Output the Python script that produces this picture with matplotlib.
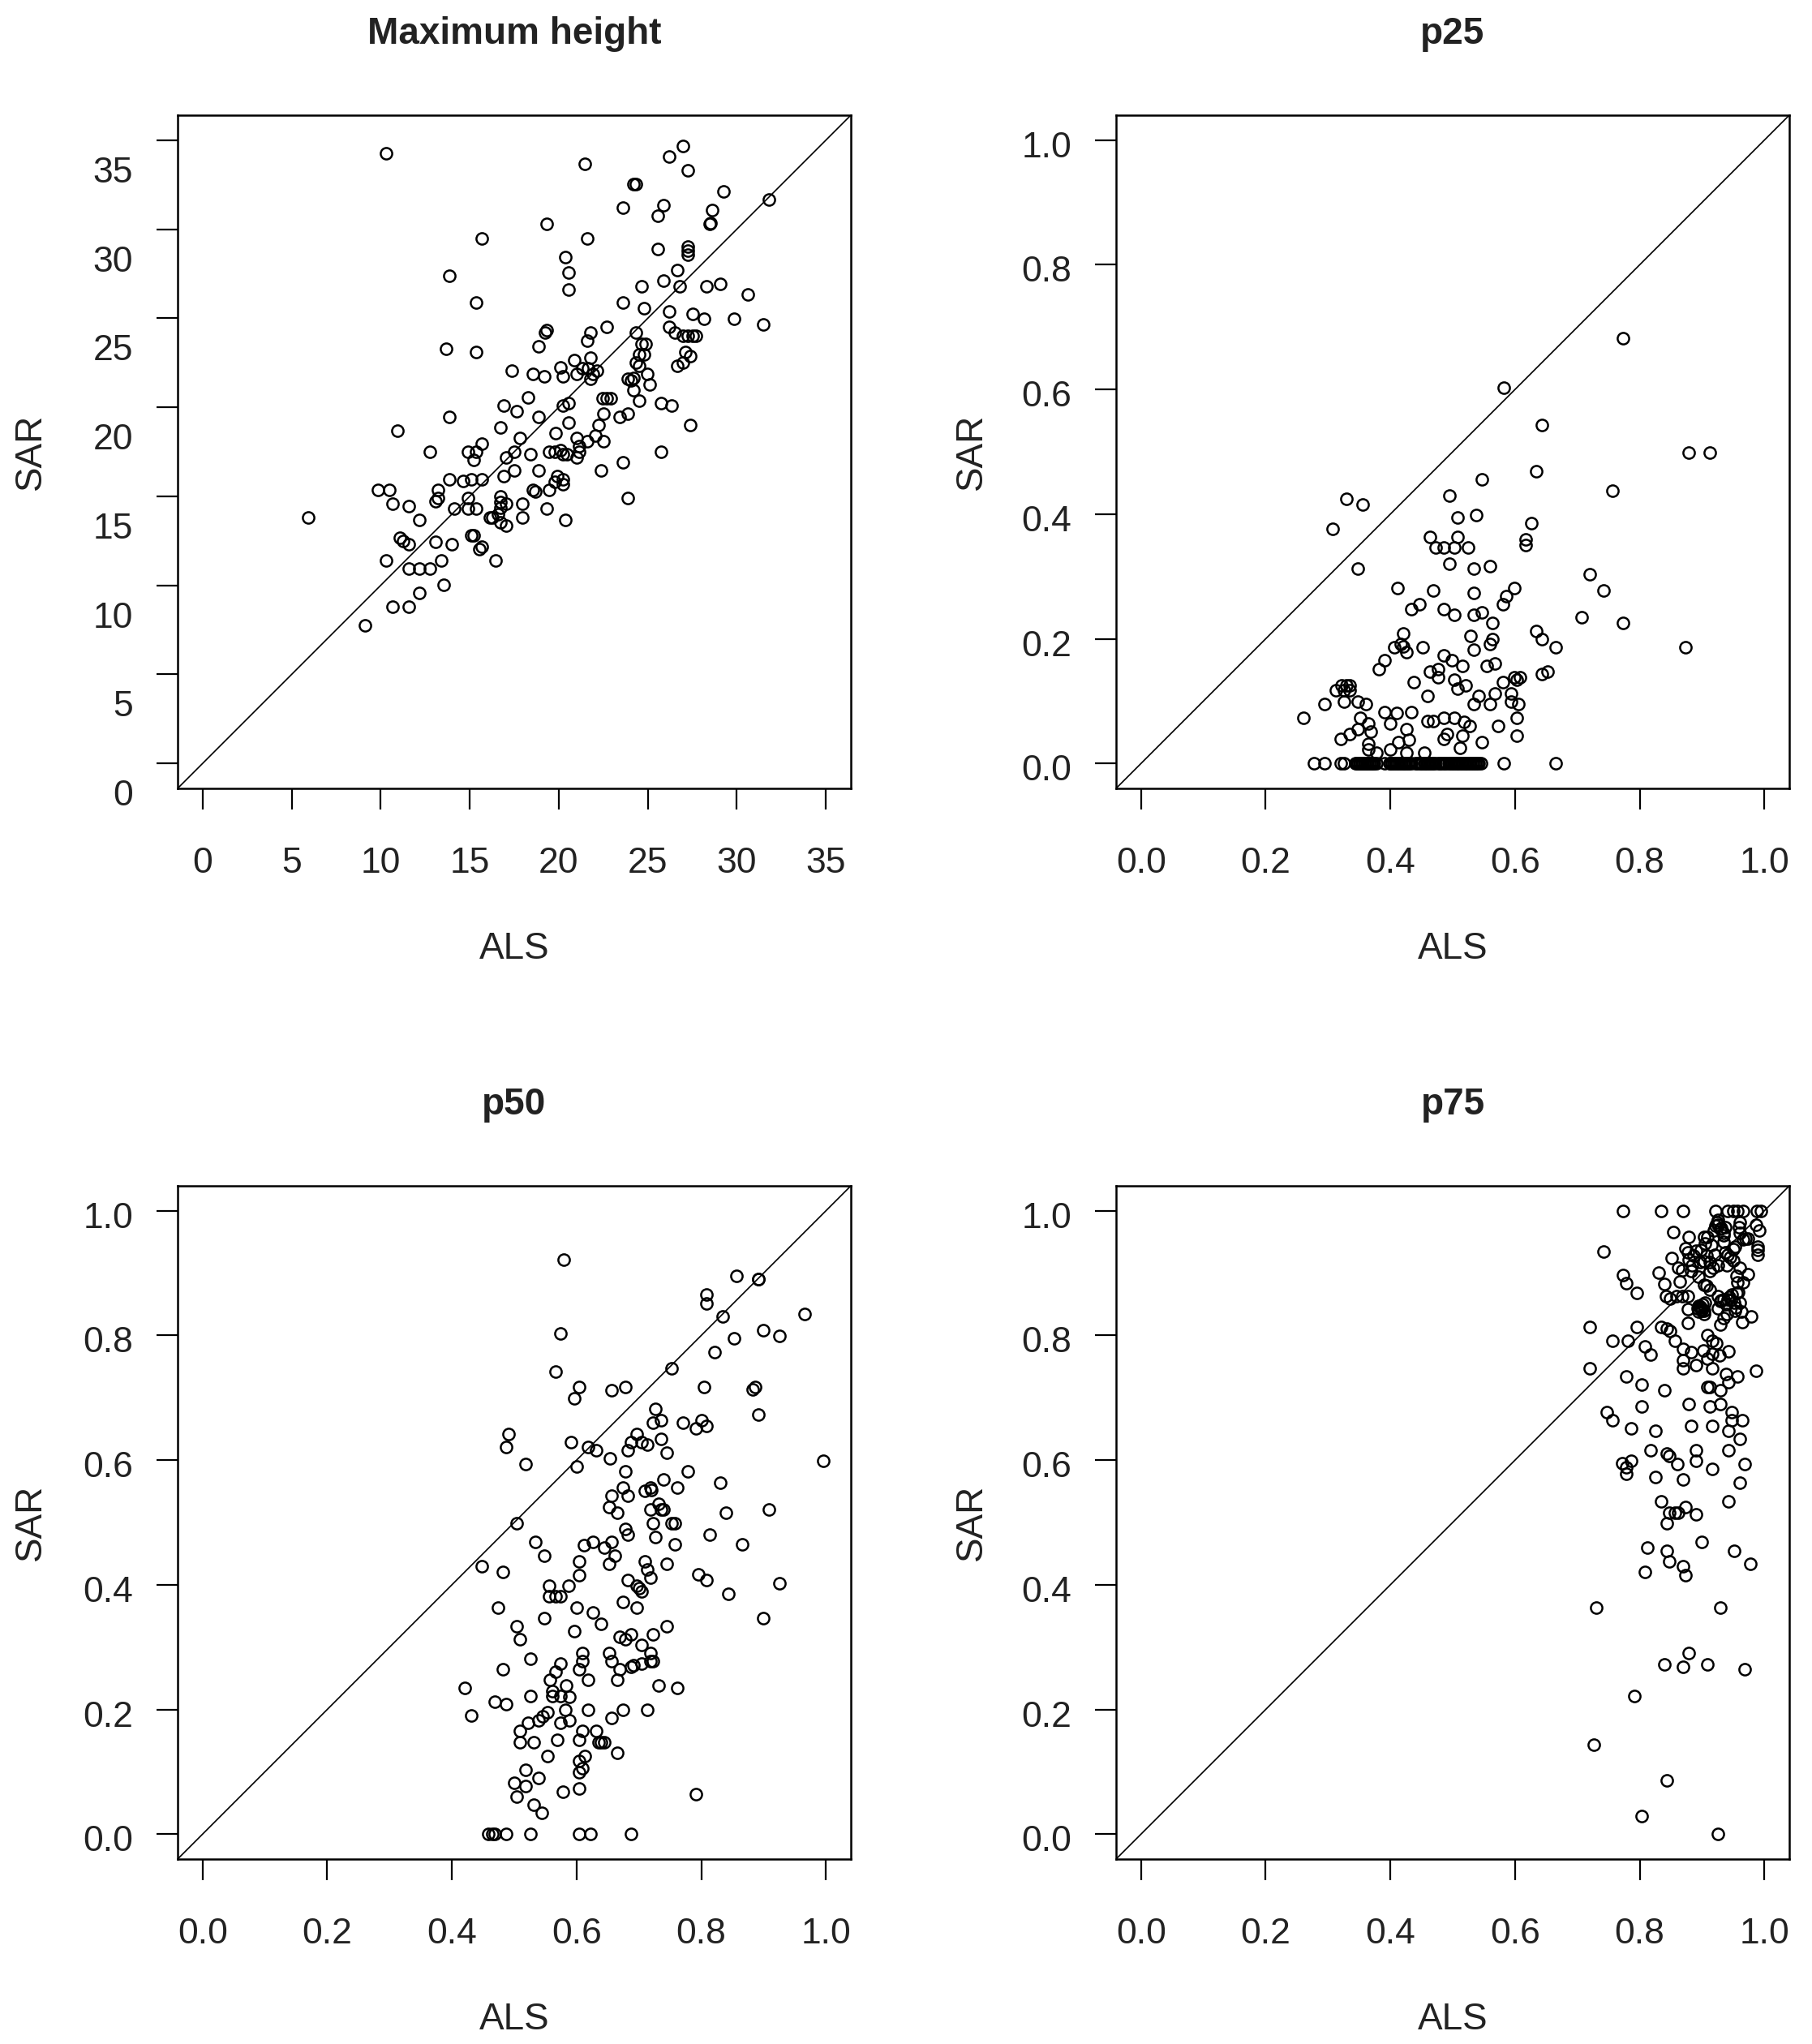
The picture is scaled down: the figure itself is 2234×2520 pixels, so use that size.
import matplotlib
matplotlib.use('Agg')
import matplotlib.pyplot as plt
from matplotlib.transforms import ScaledTranslation

plt.rcParams['font.family'] = ['Liberation Sans', 'DejaVu Sans']

# values
height_als = [10.32, 21.46, 26.95, 26.19, 27.26, 24.2, 24.35, 29.23, 31.8, 23.58, 25.88, 25.57, 28.6, 28.5, 28.49,
              19.34, 15.69, 21.6, 25.57, 27.26, 27.26, 27.26, 20.39, 26.65, 20.54, 13.85, 25.88, 24.65, 26.8, 28.31,
              29.07, 20.54, 30.6, 15.38, 23.58, 24.8, 26.19, 27.54, 28.16, 29.84, 31.5, 22.69, 26.19, 26.5, 26.95,
              27.26, 27.54, 27.72, 19.34, 19.21, 21.77, 24.35, 21.6, 18.86, 24.65, 24.88, 13.69, 15.38, 27.1, 27.39,
              24.5, 24.8, 21.77, 20.85, 26.95, 26.65, 24.35, 24.5, 20.1, 17.35, 18.57, 19.19, 20.23, 21, 21.31,
              21.64, 21.92, 22.15, 21.77, 24.96, 23.89, 24.04, 24.2, 25.11, 24.2, 18.27, 22.46, 22.69, 22.92, 24.5,
              25.73, 26.34, 16.91, 20.23, 20.54, 17.65, 22.53, 13.85, 18.86, 23.89, 23.43, 20.54, 22.23, 27.39,
              16.73, 10.94, 19.8, 22.07, 17.81, 21, 21.6, 22.53, 15.69, 21.15, 12.78, 14.92, 15.38, 15.23, 17.5,
              17.04, 18.42, 19.47, 19.78, 20.08, 20.23, 20.47, 21, 21.15, 25.73, 23.58, 17.5, 18.86, 22.38, 16.91,
              13.85, 14.61, 15.07, 15.69, 19.93, 20.23, 19.78, 20.23, 9.86, 10.5, 13.23, 18.57, 18.7, 19.47, 14.92,
              16.73, 16.73, 16.73, 23.89, 13.23, 13.08, 10.65, 11.57, 17.04, 17.96, 14.15, 14.92, 15.38, 19.34, 5.93,
              12.19, 16.28, 16.15, 16.58, 17.96, 20.39, 16.73, 17.04, 15.07, 15.23, 11.09, 11.24, 11.57, 13.08, 14,
              15.69, 15.53, 10.32, 13.39, 16.45, 11.57, 12.19, 12.78, 13.54, 12.19, 10.65, 11.57, 9.12]
height_sar = [34.26, 33.65, 34.69, 34.1, 33.3, 32.55, 32.55, 32.1, 31.66, 31.2, 31.35, 30.74, 31.05, 30.36, 30.28,
              30.28, 29.5, 29.5, 28.9, 29, 28.78, 28.57, 28.44, 27.7, 27.55, 27.4, 27.1, 26.8, 26.8, 26.8,
              26.94, 26.63, 26.33, 25.87, 25.87, 25.56, 25.4, 25.26, 24.95, 24.95, 24.64, 24.5, 24.5, 24.18, 24.03,
              24.03, 24.03, 24.03, 24.34, 24.18, 24.18, 24.18, 23.72, 23.42, 23.57, 23.57, 23.27, 23.11, 23.11, 22.86,
              22.96, 22.96, 22.8, 22.65, 22.5, 22.35, 22.5, 22.35, 22.24, 22.04, 21.89, 21.73, 21.73, 21.89, 22.2,
              22.2, 21.89, 22.04, 21.58, 21.89, 21.58, 21.5, 21.63, 21.27, 20.97, 20.54, 20.51, 20.51, 20.51, 20.38,
              20.23, 20.08, 20.08, 20.1, 20.23, 19.77, 19.62, 19.46, 19.46, 19.62, 19.46, 19.16, 19.0, 19.0,
              18.85, 18.7, 18.57, 18.39, 18.27, 18.27, 18.11, 18.11, 17.96, 17.8, 17.5, 17.5, 17.5, 17.04, 17.5,
              17.19, 17.35, 17.5, 17.5, 17.6, 17.35, 17.35, 17.19, 17.5, 17.5, 16.89, 16.43, 16.43, 16.43, 16.12,
              15.97, 15.84, 15.97, 15.97, 16.15, 15.97, 15.82, 15.66, 15.36, 15.36, 15.36, 15.36, 15.25, 15.36, 14.92,
              15, 14.67, 14.36, 14.92, 14.92, 14.74, 14.57, 14.44, 14.57, 14.57, 14.31, 14.31, 14.31, 14.31, 13.83,
              13.67, 13.83, 13.83, 13.98, 13.83, 13.67, 13.52, 13.37, 12.8, 12.8, 12.65, 12.5, 12.3, 12.45, 12.3,
              12.19, 12.04, 11.4, 11.4, 11.4, 10.94, 10.94, 10.94, 10.03, 9.57, 8.8, 8.8, 7.76]

p25_als = [.773, .582, .643, .878, .912, .634, .547, .756, .495, .330, .356, .308, .538, .508, .626, .464, .508, .617,
           .617, .473, .486, .503, .525, .495, .348, .534, .560, .720, .742, .412, .469, .534, .599, .586, .581, .447,
           .434, .486, .503, .534, .547, .564, .707, .773, .421, .634, .643, .529, .564, .560, .665, .873, .452, .406,
           .417, .421, .426, .534, .486, .499, .516, .391, .382, .555, .568, .464, .477, .477, .652, .643, .599, .608,
           .603, .581, .503, .521, .508, .438, .322, .330, .335, .313, .326, .335, .568, .594, .460, .542, .594, .606,
           .560, .534, .326, .348, .361, .295, .391, .410, .434, .261, .352, .365, .400, .460, .469, .486, .503, .518,
           .527, .603, .573, .426, .348, .369, .335, .321, .491, .486, .516, .603, .547, .430, .413, .365, .365, .512,
           .400, .378, .426, .455]
p25_sar = [.682, .603, .543, .499, .499, .469, .456, .438, .430, .425, .416, .377, .399, .395, .386, .364, .364, .359,
           .351, .347, .347, .347, .347, .321, .312, .312, .317, .304, .277, .282, .277, .273, .282, .269, .256, .256,
           .248, .248, .239, .239, .243, .226, .235, .226, .208, .213, .200, .204, .200, .191, .186, .186, .186, .186,
           .191, .188, .178, .182, .173, .165, .156, .165, .151, .156, .160, .147, .151, .138, .147, .143, .138, .138,
           .135, .130, .134, .125, .120, .130, .125, .125, .125, .117, .117, .117, .112, .112, .108, .108, .099, .095,
           .095, .095, .099, .099, .095, .095, .082, .081, .082, .073, .073, .064, .064, .068, .068, .073, .073, .067,
           .060, .073, .060, .055, .055, .051, .047, .039, .047, .039, .044, .044, .034, .038, .034, .031, .022, .025,
           .022, .017, .017, .017]
# points along the SAR = 0 row of p25, packed tight enough to merge into a bar
p25_zero_als = [.277, .294, .321, .326, .344, .346, .348, .350, .352, .354, .356, .358, .360, .362, .364, .366, .368,
                .370, .372, .374, .378, .391, .398, .400, .403, .405, .408, .410, .413, .415, .418, .420, .423, .425,
                .428, .430, .434, .440, .443, .446, .449, .451, .454, .456, .459, .461, .464, .466, .469, .471, .476,
                .479, .481, .484, .487, .490, .493, .496, .499, .501, .504, .506, .509, .511, .514, .516, .519, .521,
                .524, .526, .529, .531, .534, .536, .539, .541, .545, .582, .665]
p25_zero_sar = [0.0] * len(p25_zero_als)

p50_als = [.579, .857, .892, .892, .809, .809, .835, .966, .900, .926, .574, .853, .822, .753, .566, .604, .596, .656,
           .678, .804, .886, .883, .726, .892, .735, .722, .770, .791, .800, .809, .696, .687, .704, .713, .735, .682,
           .744, .491, .487, .591, .618, .631, .653, .518, .600, .996, .678, .778, .831, .739, .761, .674, .709, .718,
           .720, .656, .682, .652, .665, .731, .735, .739, .718, .839, .909, .504, .722, .753, .757, .678, .682, .813,
           .726, .534, .612, .626, .656, .644, .661, .652, .548, .757, .865, .604, .604, .709, .713, .718, .744, .448,
           .482, .796, .809, .682, .696, .704, .700, .926, .556, .587, .556, .566, .574, .844, .674, .696, .474, .600,
           .626, .639, .548, .900, .504, .509, .744, .596, .687, .722, .669, .678, .704, .609, .609, .652, .656, .718,
           .718, .722, .704, .691, .687, .526, .574, .566, .557, .482, .604, .669, .665, .618, .583, .561, .561, .574,
           .588, .731, .761, .421, .526, .469, .487, .582, .618, .674, .713, .431, .553, .545, .656, .539, .522, .574,
           .588, .509, .509, .531, .609, .631, .569, .604, .635, .639, .644, .553, .665, .613, .604, .609, .604, .518,
           .539, .500, .518, .504, .578, .604, .791, .531, .544, .459, .465, .469, .487, .526, .604, .622, .687]
p50_sar = [.921, .895, .891, .891, .865, .851, .830, .834, .808, .799, .803, .795, .773, .747, .742, .717, .699, .712,
           .717, .717, .717, .714, .682, .673, .664, .660, .660, .651, .664, .655, .642, .629, .629, .625, .634, .616,
           .612, .642, .621, .629, .621, .616, .603, .594, .590, .599, .582, .582, .564, .569, .556, .556, .551, .556,
           .552, .543, .543, .525, .516, .530, .521, .521, .521, .516, .521, .499, .499, .499, .499, .490, .481, .481,
           .477, .469, .464, .469, .469, .460, .447, .434, .447, .465, .465, .438, .416, .438, .425, .412, .434, .430,
           .421, .417, .408, .408, .399, .390, .395, .403, .399, .399, .382, .382, .382, .386, .373, .364, .364, .364,
           .355, .338, .347, .347, .334, .312, .334, .326, .321, .321, .317, .312, .304, .290, .277, .291, .277, .291,
           .277, .277, .273, .271, .269, .282, .273, .260, .248, .264, .264, .264, .248, .248, .239, .230, .221, .221,
           .220, .238, .234, .234, .221, .213, .208, .200, .200, .200, .200, .190, .195, .189, .186, .182, .178, .178,
           .182, .165, .147, .147, .165, .165, .151, .151, .147, .147, .147, .125, .130, .125, .117, .106, .099, .103,
           .090, .082, .077, .060, .068, .073, .064, .047, .034, 0, 0, 0, 0, 0, 0, 0, 0]

p75_als = [.773, .834, .869, .921, .941, .950, .957, .966, .988, .995,
           .854, .878, .924, .922, .929, .935, .903, .909, .961, .959, .987, .992, .961, .970, .935, .953, .966, .974,
           .989, .989, .989, .877, .898, .920, .937, .950, .851, .862, .879, .903, .926, .940, .961, .974, .955, .883,
           .894, .913, .904, .831, .839, .864, .957, .966, .842, .849, .859, .868, .877, .955, .926, .931, .946, .961,
           .877, .894, .898, .903, .894, .901, .926, .940, .953, .979, .964, .877, .929, .742, .773, .778, .795,
           .720, .795, .834, .844, .849, .756, .781, .856, .808, .817, .908, .917, .923, .869, .882, .902, .917, .928,
           .942, .909, .869, .869, .891, .720, .917, .986, .778, .938, .957, .942, .803, .908, .913, .839, .930, .878,
           .930, .912, .803, .947, .747, .756, .947, .965, .786, .825, .882, .917, .943, .960, .817, .943, .843, .848,
           .891, .891, .860, .786, .772, .779, .778, .969, .917, .825, .869, .960, .834, .943, .873, .848, .856, .862,
           .891, .843, .899, .812, .843, .951, .847, .869, .873, .808, .978, .730, .930, .878, .839, .869, .908, .969,
           .791, .726, .843, .803, .925,
           # extra points inside the dark clusters at the top right
           .926, .931, .919, .937, .926, .934, .915, .945, .950, .941, .907, .912, .918, .890, .884, .897, .905, .930,
           .939, .944, .951, .935, .897, .900, .893, .905, .899, .895, .903, .934, .941, .948, .958, .954, .963, .912,
           .907, .886, .874, .868]
p75_sar = [1, 1, 1, 1, 1, 1, 1, 1, 1, 1,
           .966, .958, .982, .976, .971, .965, .958, .958, .982, .974, .978, .969, .965, .956, .950, .943, .954, .956,
           .943, .937, .930, .933, .937, .930, .933, .938, .924, .909, .922, .919, .913, .913, .908, .898, .896, .903,
           .894, .903, .881, .901, .883, .887, .885, .885, .863, .859, .863, .863, .863, .868, .863, .857, .857, .853,
           .842, .848, .845, .840, .838, .850, .844, .835, .840, .831, .822, .820, .818, .934, .897, .884, .868,
           .813, .813, .813, .811, .807, .791, .791, .791, .782, .769, .800, .792, .787, .778, .773, .776, .771, .768,
           .774, .763, .760, .747, .752, .747, .747, .743, .734, .738, .734, .725, .721, .717, .717, .712, .712, .690,
           .690, .686, .686, .677, .677, .664, .664, .664, .651, .647, .655, .655, .647, .634, .616, .616, .610, .607,
           .616, .599, .594, .599, .595, .588, .578, .594, .586, .573, .569, .564, .534, .534, .525, .516, .516, .516,
           .513, .499, .469, .460, .455, .455, .438, .430, .416, .421, .433, .364, .364, .291, .272, .269, .272, .264,
           .221, .143, .086, .029, 0,
           .978, .972, .968, .974, .985, .960, .945, .925, .920, .930, .928, .918, .908, .936, .912, .918, .948, .855,
           .850, .862, .852, .858, .846, .840, .843, .852, .842, .847, .834, .828, .858, .866, .870, .845, .838, .874,
           .880, .928, .940, .905]

height_ticks = [0, 5, 10, 15, 20, 25, 30, 35]
share_ticks = [0.0, 0.2, 0.4, 0.6, 0.8, 1.0]
share_labels = ['0.0', '0.2', '0.4', '0.6', '0.8', '1.0']

W, H = 2234, 2520
fig = plt.figure(figsize=(W / 100, H / 100), dpi=100, facecolor='white')


def panel(left, right, top, bottom, title, xs, ys, ticks, labels, lim, shift):
    ax = fig.add_axes([left / W, 1 - bottom / H, (right - left) / W, (bottom - top) / H])
    ax.plot(lim, lim, color='black', lw=1.2, solid_capstyle='butt')
    ax.plot(xs, ys, 'o', ms=10.2, mfc='none', mec='black', mew=1.8, clip_on=False)
    ax.set_xlim(lim)
    ax.set_ylim(lim)
    ax.set_xticks(ticks)
    ax.set_xticklabels(labels)
    ax.set_yticks(ticks)
    ax.set_yticklabels(labels)
    ax.tick_params(axis='both', length=18.5, width=1.6, labelsize=32, color='black', labelcolor='#222222')
    ax.tick_params(axis='x', pad=33)
    ax.tick_params(axis='y', pad=21)
    for s in ax.spines.values():
        s.set_linewidth(1.8)
    # the y labels sit a bit below their ticks in the original
    off = ScaledTranslation(0, -shift / 100, fig.dpi_scale_trans)
    for lab in ax.get_yticklabels():
        lab.set_transform(lab.get_transform() + off)
    xc = (left + right) / 2 / W
    fig.text(xc, 1 - (top - 100) / H, title, ha='center', va='center', fontsize=33, fontweight='bold', color='#222222')
    fig.text(xc, 1 - (bottom + 198) / H, 'ALS', ha='center', va='center', fontsize=33, color='#222222')
    fig.text((left - 181) / W if left < 1000 else (left - 178) / W, 1 - (top + bottom) / 2 / H, 'SAR', ha='center',
             va='center', rotation=90, fontsize=33, color='#222222')
    return ax


panel(219, 1049, 142, 972, 'Maximum height', height_als, height_sar, height_ticks,
      [str(t) for t in height_ticks], (-1.4, 36.4), 36)
panel(1376, 2206, 142, 972, 'p25', p25_als + p25_zero_als, p25_sar + p25_zero_sar, share_ticks, share_labels,
      (-0.04, 1.04), 5)
panel(219, 1049, 1462, 2292, 'p50', p50_als, p50_sar, share_ticks, share_labels, (-0.04, 1.04), 5)
panel(1376, 2206, 1462, 2292, 'p75', p75_als, p75_sar, share_ticks, share_labels, (-0.04, 1.04), 5)

plt.savefig('out.png', dpi=100)
